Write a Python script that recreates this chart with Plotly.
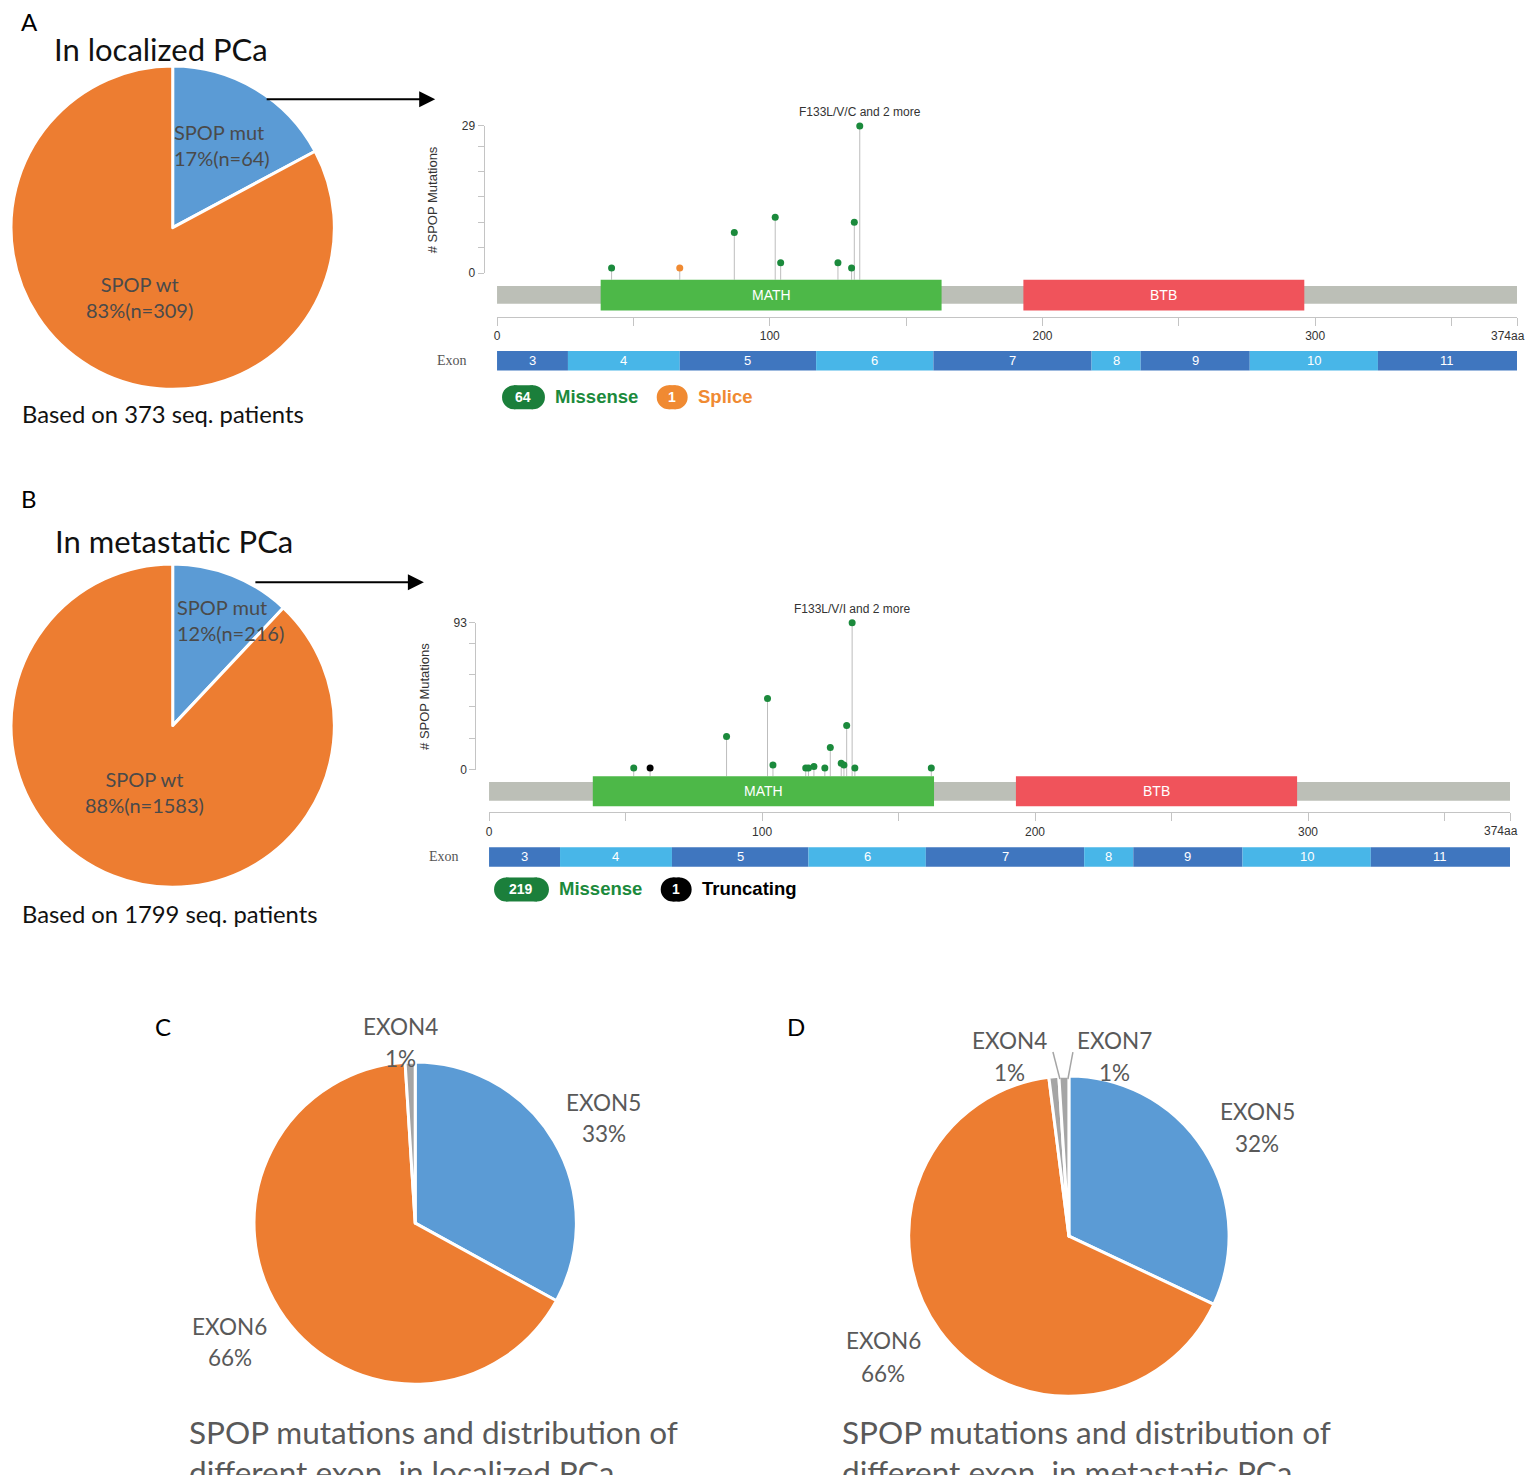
import plotly.graph_objects as go

# the page keeps its default 8px body margin, so the figure is sized to fit inside the window
PAGE_W, PAGE_H = 1535, 1483
PAD = 8
W, H = PAGE_W - 2 * PAD, PAGE_H - 2 * PAD
# the photographed page comes back slightly squeezed vertically; positions are given in
# picture pixels and mapped back through this
SQ_Y, OFF_Y = 0.99, 8.5

# ---------------- data ----------------
status_labels = ["SPOP mut", "SPOP wt"]
loc_counts = [64, 309]
met_counts = [216, 1583]

protein_len = 374
domain_names = ["MATH", "BTB"]
domain_start = [38, 193]
domain_end = [163, 296]

exon_names = ["3", "4", "5", "6", "7", "8", "9", "10", "11"]
exon_start = [0, 26, 67, 117, 160, 218, 236, 276, 323]
exon_end = [26, 67, 117, 160, 218, 236, 276, 323, 374]

loc_missense_pos = [42, 87, 102, 104, 125, 130, 131, 133]
loc_missense_n = [1, 8, 11, 2, 2, 1, 10, 29]
loc_splice_pos = [67]
loc_splice_n = [1]
loc_hotspot = "F133L/V/C and 2 more"

met_missense_pos = [53, 87, 102, 104, 116, 117, 119, 123, 125, 129, 130, 131, 133, 134, 162]
met_missense_n = [1, 21, 45, 3, 1, 1, 2, 1, 14, 4, 3, 28, 93, 1, 1]
met_trunc_pos = [59]
met_trunc_n = [1]
met_hotspot = "F133L/V/I and 2 more"

loc_exon_labels = ["EXON5", "EXON6", "EXON4"]
loc_exon_pct = [33, 66, 1]
met_exon_labels = ["EXON5", "EXON6", "EXON4", "EXON7"]
met_exon_pct = [32, 66, 1, 1]

# ---------------- style ----------------
BLUE, ORANGE, GREY = "#5b9bd5", "#ed7d31", "#a5a5a5"
GREEN_MUT, ORANGE_MUT, BLACK_MUT = "#1b8a3c", "#f08a32", "#000000"
AXC = "#c4c4c4"
CAL = "Lato, Open Sans, sans-serif"
ARIAL = "Arial, Liberation Sans, sans-serif"
SERIF = "Times New Roman, Liberation Serif, serif"
TXT = "#595959"
exon_pie_colors = {"EXON5": BLUE, "EXON6": ORANGE, "EXON4": GREY, "EXON7": GREY}


# picture pixel -> paper fraction
def fx(p):
    return min(max((p - PAD) / W, 0), 1)


def fy(p):
    pp = (p - OFF_Y) / SQ_Y
    return min(max(1 - (pp - PAD) / H, 0), 1)


fig = go.Figure()
ann = []
shapes = []
axes = {}


def text(x, y, s, size, color=TXT, font=CAL, xanchor="center", yanchor="middle", bold=False, **kw):
    ann.append(dict(x=fx(x), y=fy(y), xref="paper", yref="paper", text=f"<b>{s}</b>" if bold else s,
                    showarrow=False, font=dict(family=font, size=size, color=color),
                    xanchor=xanchor, yanchor=yanchor, **kw))


def add_pie(labels, values, colors, cx, cy, r):
    fig.add_trace(go.Pie(
        labels=labels, values=values, sort=False, direction="clockwise", rotation=0,
        marker=dict(colors=colors, line=dict(color="white", width=3)),
        textinfo="none", hoverinfo="label+percent",
        domain=dict(x=[fx(cx - r), fx(cx + r)], y=[fy(cy + r), fy(cy - r)]),
    ))


def pill(xl, w, yc, h, color):
    if w <= h + 6:
        shapes.append(dict(type="circle", xref="paper", yref="paper", x0=fx(xl), x1=fx(xl + w),
                           y0=fy(yc + h / 2 + 1), y1=fy(yc - h / 2 - 1), fillcolor=color, line=dict(width=0)))
        return
    rr = h / 2
    shapes.append(dict(type="rect", xref="paper", yref="paper", x0=fx(xl + rr), x1=fx(xl + w - rr),
                       y0=fy(yc + rr), y1=fy(yc - rr), fillcolor=color, line=dict(width=0)))
    for c in (xl, xl + w - h):
        shapes.append(dict(type="circle", xref="paper", yref="paper", x0=fx(c), x1=fx(c + h),
                           y0=fy(yc + rr), y1=fy(yc - rr), fillcolor=color, line=dict(width=0)))


def add_lollipop(i, j, g, series, hotspot, step, legend):
    xa, ya = ("x", "y") if i == 1 else (f"x{i}", f"y{i}")
    xs, ys = f"x{j}", f"y{j}"
    ymax = max(max(n) for _, n, _ in series)
    ppu = (g["y0"] - g["ytop"]) / ymax
    base = -(g["dom"][0] - g["y0"]) / ppu

    sx, sy = [], []
    for pos, n, _ in series:
        for p, c in zip(pos, n):
            sx += [p, p, None]
            sy += [base, c, None]
    fig.add_trace(go.Scatter(x=sx, y=sy, mode="lines", line=dict(color="#bdbdbd", width=1),
                             xaxis=xa, yaxis=ya, hoverinfo="skip"))
    for pos, n, col in series:
        fig.add_trace(go.Scatter(x=pos, y=n, mode="markers", marker=dict(size=7, color=col),
                                 xaxis=xa, yaxis=ya, cliponaxis=False))
    fig.add_trace(go.Scatter(x=[None], y=[None], xaxis=xs, yaxis=ys, hoverinfo="skip"))

    xt = list(range(0, protein_len, 50)) + [protein_len]
    xtt = [str(v) if v % 100 == 0 else "" for v in xt[:-1]] + [""]
    axes["xaxis" if i == 1 else f"xaxis{i}"] = dict(
        domain=[fx(g["x0"]), fx(g["x1"])], range=[0, protein_len], anchor=ya,
        showgrid=False, zeroline=False, showline=True, linecolor=AXC, ticks="outside",
        ticklen=8, tickcolor=AXC, tickvals=xt, ticktext=xtt,
        tickfont=dict(family=ARIAL, size=12, color="#333"))
    # the last tick label sits right at the page edge
    ann.append(dict(x=protein_len, y=fy(g["axis"] + 19), xref=xa, yref="paper", xshift=10,
                    xanchor="right", yanchor="middle", text=f"{protein_len}aa", showarrow=False,
                    font=dict(family=ARIAL, size=12, color="#333")))
    axes["yaxis" if i == 1 else f"yaxis{i}"] = dict(
        domain=[fy(g["axis"]), fy(g["ytop"])], range=[-(g["axis"] - g["y0"]) / ppu, ymax],
        anchor=xa, visible=False)
    yt = list(range(0, ymax, step)) + [ymax]
    axes[f"xaxis{j}"] = dict(domain=[fx(g["spine"]), fx(g["spine"] + 5)], anchor=ys, visible=False)
    axes[f"yaxis{j}"] = dict(
        domain=[fy(g["y0"]), fy(g["ytop"])], range=[0, ymax], anchor=xs,
        showgrid=False, zeroline=False, showline=True, linecolor=AXC, ticks="outside",
        ticklen=6, tickcolor=AXC, tickvals=yt,
        ticktext=[str(v) if v in (0, ymax) else "" for v in yt],
        tickfont=dict(family=ARIAL, size=12, color="#333"))

    # hotspot label on the tallest lollipop
    for pos, n, _ in series:
        if ymax in n:
            ann.append(dict(x=pos[n.index(ymax)], y=ymax, xref=xa, yref=ya, yshift=14,
                            xanchor="center", yanchor="middle", text=hotspot, showarrow=False,
                            font=dict(family=ARIAL, size=12, color="#333")))

    # protein backbone, domains, exons
    shapes.append(dict(type="rect", xref=xa, yref="paper", x0=0, x1=protein_len,
                       y0=fy(g["bb"][1]), y1=fy(g["bb"][0]), fillcolor="#bcbfb7", line=dict(width=0)))
    for name, s, e, col in zip(domain_names, domain_start, domain_end, ["#4db848", "#f0535b"]):
        shapes.append(dict(type="rect", xref=xa, yref="paper", x0=s, x1=e,
                           y0=fy(g["dom"][1]), y1=fy(g["dom"][0]), fillcolor=col, line=dict(width=0)))
        ann.append(dict(x=(s + e) / 2, y=fy(sum(g["dom"]) / 2), xref=xa, yref="paper", text=name,
                        xanchor="center", yanchor="middle", showarrow=False,
                        font=dict(family=ARIAL, size=14, color="white")))
    for k, (name, s, e) in enumerate(zip(exon_names, exon_start, exon_end)):
        shapes.append(dict(type="rect", xref=xa, yref="paper", x0=s, x1=e,
                           y0=fy(g["exon"][1]), y1=fy(g["exon"][0]),
                           fillcolor="#3f76bf" if k % 2 == 0 else "#48b6e8", line=dict(width=0)))
        ann.append(dict(x=(s + e) / 2, y=fy(sum(g["exon"]) / 2), xref=xa, yref="paper", text=name,
                        xanchor="center", yanchor="middle", showarrow=False,
                        font=dict(family=ARIAL, size=13, color="white")))
    text(g["exon_lbl"], sum(g["exon"]) / 2, "Exon", 14, "#555", SERIF)
    text(g["ylab"], (g["y0"] + g["ytop"]) / 2, "# SPOP Mutations", 13, "#333", ARIAL, textangle=-90)

    # legend
    xl = g["x0"] + 5
    for cnt, lab, col, tcol, tw in legend:
        w = max(30, 19 + 12 * len(cnt))
        pill(xl, w, g["leg"], 24, col)
        text(xl + w / 2, g["leg"], cnt, 14, "white", ARIAL, bold=True)
        text(xl + w + 8, g["leg"] - 1, lab, 18.5, tcol, ARIAL, xanchor="left", bold=True)
        xl += w + 10 + tw + 16


# ---------------- panel A ----------------
text(27, 23, "A", 24, "#000")
text(158, 50, "In localized PCa", 31, "#111")
add_pie(status_labels, loc_counts, [BLUE, ORANGE], 170, 229, 162)
loc_total = sum(loc_counts)
text(169.5, 146, f"{status_labels[0]}<br>{round(100 * loc_counts[0] / loc_total)}%(n={loc_counts[0]})",
     20, "#4a4a4a", xanchor="left", align="left")
text(136.5, 298, f"{status_labels[1]}<br>{round(100 * loc_counts[1] / loc_total)}%(n={loc_counts[1]})",
     20, "#4a4a4a")
text(160, 415, f"Based on {loc_total} seq. patients", 23.8, "#111")
ann.append(dict(x=fx(433), y=fy(100.7), xref="paper", yref="paper", ax=-170, ay=0, text="",
                showarrow=True, arrowhead=2, arrowsize=1.6, arrowwidth=2, arrowcolor="#000"))

gA = dict(x0=495, x1=1517, y0=274.3, ytop=127.3, axis=318.3, spine=482.5,
          bb=(287.3, 305), dom=(281, 311.7), exon=(352.3, 371.7), exon_lbl=450, ylab=430.7, leg=398.5)
add_lollipop(1, 3, gA,
             [(loc_missense_pos, loc_missense_n, GREEN_MUT), (loc_splice_pos, loc_splice_n, ORANGE_MUT)],
             loc_hotspot, 5,
             [(str(sum(loc_missense_n)), "Missense", "#1b7f3b", GREEN_MUT, 86),
              (str(sum(loc_splice_n)), "Splice", ORANGE_MUT, ORANGE_MUT, 57)])

# ---------------- panel B ----------------
text(26, 500, "B", 24, "#000")
text(171, 542, "In metastatic PCa", 31, "#111")
add_pie(status_labels, met_counts, [BLUE, ORANGE], 170, 726.7, 162)
met_total = sum(met_counts)
text(172.5, 621, f"{status_labels[0]}<br>{round(100 * met_counts[0] / met_total)}%(n={met_counts[0]})",
     20, "#4a4a4a", xanchor="left", align="left")
text(142, 793, f"{status_labels[1]}<br>{round(100 * met_counts[1] / met_total)}%(n={met_counts[1]})",
     20, "#4a4a4a")
text(167, 915, f"Based on {met_total} seq. patients", 23.8, "#111")
ann.append(dict(x=fx(421.7), y=fy(583.3), xref="paper", yref="paper", ax=-170, ay=0, text="",
                showarrow=True, arrowhead=2, arrowsize=1.6, arrowwidth=2, arrowcolor="#000"))

gB = dict(x0=487, x1=1510, y0=770.7, ytop=624, axis=813.3, spine=474.3,
          bb=(783, 801.7), dom=(777.3, 807.3), exon=(848.3, 867.7), exon_lbl=442, ylab=422.5, leg=890.5)
add_lollipop(2, 4, gB,
             [(met_missense_pos, met_missense_n, GREEN_MUT), (met_trunc_pos, met_trunc_n, BLACK_MUT)],
             met_hotspot, 20,
             [(str(sum(met_missense_n)), "Missense", "#1b7f3b", GREEN_MUT, 86),
              (str(sum(met_trunc_n)), "Truncating", BLACK_MUT, BLACK_MUT, 94)])

# ---------------- panel C ----------------
text(160, 1027, "C", 24, "#000")
add_pie(loc_exon_labels, loc_exon_pct, [exon_pie_colors[l] for l in loc_exon_labels], 413, 1224, 161.5)
c_pos = {"EXON4": (398, 1027, 1059), "EXON5": (602, 1103, 1134), "EXON6": (227, 1327, 1358)}
for lab, pct in zip(loc_exon_labels, loc_exon_pct):
    x, y1, y2 = c_pos[lab]
    text(x, y1, lab, 22.5)
    text(x, y2, f"{pct}%", 22.5)
text(184, 1433, "SPOP mutations and distribution of", 31.5, xanchor="left")
text(184, 1452, "different exon&nbsp; in localized PCa", 31.5, xanchor="left", yanchor="top")

# ---------------- panel D ----------------
text(795, 1027, "D", 24, "#000")
add_pie(met_exon_labels, met_exon_pct, [exon_pie_colors[l] for l in met_exon_labels], 1068, 1237, 160.5)
d_pos = {"EXON4": (1008, 1041, 1073), "EXON7": (1114, 1041, 1073),
         "EXON5": (1256.5, 1112, 1144), "EXON6": (882, 1341, 1374)}
for lab, pct in zip(met_exon_labels, met_exon_pct):
    x, y1, y2 = d_pos[lab]
    text(x, y1, lab, 22.5)
    text(x, y2, f"{pct}%", 22.5)
for (xa0, ya0, xa1, ya1) in [(1052, 1053, 1059, 1080), (1072, 1053, 1067, 1080)]:
    shapes.append(dict(type="line", xref="paper", yref="paper", x0=fx(xa0), y0=fy(ya0),
                       x1=fx(xa1), y1=fy(ya1), line=dict(color=GREY, width=1.5)))
text(839, 1433, "SPOP mutations and distribution of", 31.5, xanchor="left")
text(839, 1452, "different exon&nbsp; in metastatic PCa", 31.5, xanchor="left", yanchor="top")

fig.update_layout(
    width=W, height=H, margin=dict(l=0, r=0, t=0, b=0),
    paper_bgcolor="white", plot_bgcolor="rgba(0,0,0,0)", showlegend=False,
    annotations=ann, shapes=shapes, **axes,
)

fig.write_html("out.html", config={"displayModeBar": False})
